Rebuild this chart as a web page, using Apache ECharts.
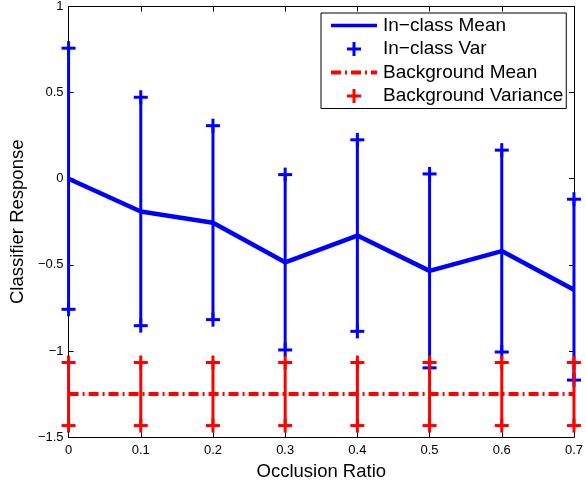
<!DOCTYPE html>
<html>
<head>
<meta charset="utf-8">
<script src="https://cdn.jsdelivr.net/npm/echarts@6/dist/echarts.min.js"></script>
<style>
html,body{margin:0;padding:0;background:#fff;}
#chart{width:586px;height:486px;}
</style>
</head>
<body>
<div id="chart"></div>
<script>
// ---- data ----
const occlusionRatios = [0, 0.1, 0.2, 0.3, 0.4, 0.5, 0.6, 0.7];
const inClassMean = [0, -0.19, -0.255, -0.485, -0.33, -0.535, -0.42, -0.644];
const inClassVar = [0.758, 0.663, 0.563, 0.509, 0.556, 0.563, 0.586, 0.525];
const backgroundMean = [-1.25, -1.25, -1.25, -1.25, -1.25, -1.25, -1.25, -1.25];
const backgroundVar = [0.183, 0.183, 0.183, 0.183, 0.183, 0.183, 0.183, 0.183];
const xTickLabels = ['0', '0.1', '0.2', '0.3', '0.4', '0.5', '0.6', '0.7'];
const yTickLabels = ['\u22121.5', '\u22121', '\u22120.5', '0', '0.5', '1'];
const yTickValues = [-1.5, -1, -0.5, 0, 0.5, 1];
const seriesNames = ['In\u2212class Mean', 'In\u2212class Var', 'Background Mean', 'Background Variance'];

const BLUE = '#0000ff', RED = '#ff0000';
const FONT = 'Liberation Sans, Arial, Helvetica, sans-serif';

const meanLine = occlusionRatios.map((x, i) => [x, inClassMean[i]]);
const varBars = occlusionRatios.map((x, i) => [x, inClassMean[i] - inClassVar[i], inClassMean[i] + inClassVar[i]]);
const bgLine = occlusionRatios.map((x, i) => [x, backgroundMean[i]]);
const bgBars = occlusionRatios.map((x, i) => [x, backgroundMean[i] - backgroundVar[i], backgroundMean[i] + backgroundVar[i]]);

function makeErrRender(color) {
  return function (params, api) {
    const x = api.value(0), lo = api.value(1), hi = api.value(2);
    const a = api.coord([x, lo]), b = api.coord([x, hi]);
    const h = 7;
    const style = { stroke: color, lineWidth: 3, fill: null };
    const seg = (x1, y1, x2, y2) => ({ type: 'line', shape: { x1, y1, x2, y2 }, style });
    return {
      type: 'group',
      children: [
        seg(a[0], a[1], b[0], b[1]),
        seg(b[0] - h, b[1], b[0] + h, b[1]),
        seg(b[0], b[1] - h, b[0], b[1] + h),
        seg(a[0] - h, a[1], a[0] + h, a[1]),
        seg(a[0], a[1] - h, a[0], a[1] + h)
      ]
    };
  };
}

// legend icons (48 x 14 boxes; the degenerate corner points fix the bounding box)
const BOX = 'M0,0 L0,0 M48,14 L48,14 ';
const plusIcon = 'path://' + BOX + 'M17,5.5 L31,5.5 L31,8.5 L17,8.5 Z M22.5,0 L25.5,0 L25.5,14 L22.5,14 Z';
const solidIcon = 'path://' + BOX + 'M1,5.25 L47,5.25 L47,8.75 L1,8.75 Z';
function dashDotIcon() {
  const pat = [10, 4, 2, 4];
  let x = 1, k = 0, p = 'path://' + BOX;
  while (x < 47) {
    const len = pat[k % 4];
    if (k % 2 === 0) {
      const x2 = Math.min(x + len, 47);
      p += 'M' + x + ',5 L' + x2 + ',5 L' + x2 + ',9 L' + x + ',9 Z ';
    }
    x += len; k++;
  }
  return p;
}

const fmtX = v => { const i = Math.round(v * 10); return xTickLabels[i] !== undefined ? xTickLabels[i] : String(v); };
const fmtY = v => { const i = yTickValues.findIndex(t => Math.abs(t - v) < 1e-9); return i >= 0 ? yTickLabels[i] : String(v); };

const chart = echarts.init(document.getElementById('chart'), null, { renderer: 'canvas' });
const option = {
  backgroundColor: '#fff',
  animation: false,
  grid: { left: 64, right: 10, top: 5, bottom: 42, containLabel: false },
  xAxis: [
    {
      type: 'value', min: 0, max: 0.7, interval: 0.1, position: 'bottom',
      name: 'Occlusion Ratio', nameLocation: 'middle', nameGap: 20,
      nameTextStyle: { fontFamily: FONT, fontSize: 18.5, color: '#000' },
      axisLine: { show: true, onZero: false, lineStyle: { color: '#000', width: 1 } },
      axisTick: { show: true, inside: true, length: 5, lineStyle: { color: '#000' } },
      axisLabel: { fontFamily: FONT, fontSize: 13, color: '#000', margin: 7, formatter: fmtX },
      splitLine: { show: false }
    },
    {
      type: 'value', min: 0, max: 0.7, interval: 0.1, position: 'top',
      axisLine: { show: true, onZero: false, lineStyle: { color: '#000', width: 1 } },
      axisTick: { show: true, inside: true, length: 5, lineStyle: { color: '#000' } },
      axisLabel: { show: false },
      splitLine: { show: false }
    }
  ],
  yAxis: [
    {
      type: 'value', min: -1.5, max: 1, interval: 0.5, position: 'left',
      name: 'Classifier Response', nameLocation: 'middle', nameGap: 37,
      nameTextStyle: { fontFamily: FONT, fontSize: 18.5, color: '#000' },
      axisLine: { show: true, onZero: false, lineStyle: { color: '#000', width: 1 } },
      axisTick: { show: true, inside: true, length: 5, lineStyle: { color: '#000' } },
      axisLabel: { fontFamily: FONT, fontSize: 13, color: '#000', margin: 5, formatter: fmtY },
      splitLine: { show: false }
    },
    {
      type: 'value', min: -1.5, max: 1, interval: 0.5, position: 'right',
      axisLine: { show: true, onZero: false, lineStyle: { color: '#000', width: 1 } },
      axisTick: { show: true, inside: true, length: 5, lineStyle: { color: '#000' } },
      axisLabel: { show: false },
      splitLine: { show: false }
    }
  ],
  legend: {
    orient: 'vertical', left: 321, top: 13,
    padding: [3, 3, 3, 9],
    itemWidth: 48, itemHeight: 14, itemGap: 4.5,
    backgroundColor: '#fff', borderColor: '#000', borderWidth: 1, borderRadius: 0,
    textStyle: { fontFamily: FONT, fontSize: 19, lineHeight: 19, color: '#000' },
    selectedMode: false,
    data: [
      { name: seriesNames[0], icon: solidIcon, itemStyle: { color: BLUE } },
      { name: seriesNames[1], icon: plusIcon, itemStyle: { color: BLUE } },
      { name: seriesNames[2], icon: dashDotIcon(), itemStyle: { color: RED } },
      { name: seriesNames[3], icon: plusIcon, itemStyle: { color: RED } }
    ]
  },
  series: [
    {
      name: seriesNames[1], type: 'custom', clip: false, z: 2,
      itemStyle: { color: BLUE },
      renderItem: makeErrRender(BLUE),
      encode: { x: 0, y: [1, 2] },
      data: varBars
    },
    {
      name: seriesNames[0], type: 'line', z: 3,
      symbol: 'none', color: BLUE,
      lineStyle: { color: BLUE, width: 4.5 },
      data: meanLine
    },
    {
      name: seriesNames[3], type: 'custom', clip: false, z: 4,
      itemStyle: { color: RED },
      renderItem: makeErrRender(RED),
      encode: { x: 0, y: [1, 2] },
      data: bgBars
    },
    {
      name: seriesNames[2], type: 'line', z: 5,
      symbol: 'none', color: RED,
      lineStyle: { color: RED, width: 4, type: [10, 4, 2, 4] },
      data: bgLine
    }
  ]
};
chart.setOption(option);
</script>
</body>
</html>
